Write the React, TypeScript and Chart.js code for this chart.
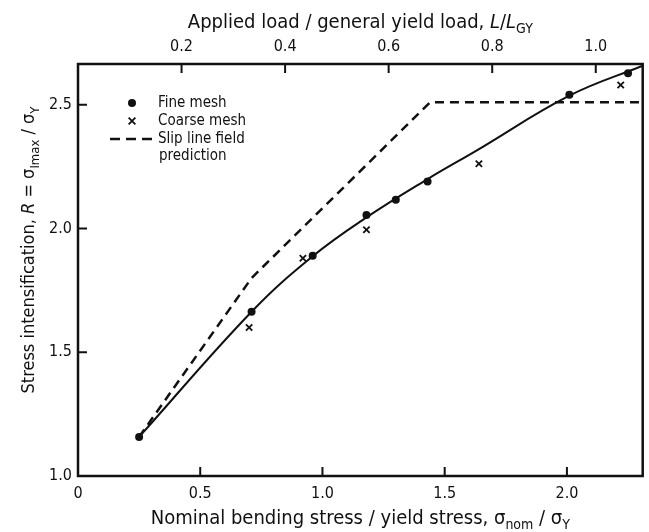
import React, { useEffect, useRef } from "react";
import { Chart, registerables } from "chart.js";

Chart.register(...registerables);

// ---- axis ranges ----
const xMin = 0;
const xMax = 2.31;
const yMin = 1.0;
const yMax = 2.665;
// 1.0 of applied load / general yield load corresponds to this nominal stress ratio
const stressPerLoad = 2.118;

// ---- tick labels ----
const bottomTickValues = [0, 0.5, 1.0, 1.5, 2.0];
const bottomTickLabels = ["0", "0.5", "1.0", "1.5", "2.0"];
const topTickValues = [0.2, 0.4, 0.6, 0.8, 1.0];
const topTickLabels = ["0.2", "0.4", "0.6", "0.8", "1.0"];
const leftTickValues = [1.0, 1.5, 2.0, 2.5];
const leftTickLabels = ["1.0", "1.5", "2.0", "2.5"];

// ---- series ----
const fineX = [0.25, 0.71, 0.96, 1.18, 1.3, 1.43, 2.01, 2.25];
const fineY = [1.158, 1.664, 1.89, 2.055, 2.116, 2.19, 2.541, 2.628];
const coarseX = [0.7, 0.92, 1.18, 1.64, 2.22];
const coarseY = [1.6, 1.88, 1.995, 2.262, 2.58];
const curveX = [0.25, 0.71, 0.96, 1.18, 1.43, 1.63, 2.01, 2.31];
const curveY = [1.158, 1.664, 1.888, 2.045, 2.2, 2.315, 2.537, 2.658];
const slipX = [0.25, 0.71, 1.44, 2.31];
const slipY = [1.158, 1.8, 2.51, 2.51];

const legendLabels = ["Fine mesh", "Coarse mesh", "Slip line field\nprediction"];

const FONT = '"DejaVu Sans Condensed", "DejaVu Sans", sans-serif';
const INK = "#111";

type Seg = { t: string; sub?: boolean; it?: boolean };

const topTitle: Seg[] = [
  { t: "Applied load / general yield load, " },
  { t: "L", it: true },
  { t: "/" },
  { t: "L", it: true },
  { t: "GY", sub: true },
];
const bottomTitle: Seg[] = [
  { t: "Nominal bending stress / yield stress, σ" },
  { t: "nom", sub: true },
  { t: " / σ" },
  { t: "Y", sub: true },
];
const leftTitle: Seg[] = [
  { t: "Stress intensification, " },
  { t: "R", it: true },
  { t: " = σ" },
  { t: "Imax", sub: true },
  { t: " / σ" },
  { t: "Y", sub: true },
];

function fontFor(s: Seg, size: number) {
  const sz = s.sub ? Math.round(size * 0.72) : size;
  return `${s.it ? "italic " : ""}${sz}px ${FONT}`;
}

function drawRich(
  ctx: CanvasRenderingContext2D,
  segs: Seg[],
  x: number,
  y: number,
  size: number,
  subDrop: number
) {
  let total = 0;
  for (const s of segs) {
    ctx.font = fontFor(s, size);
    total += ctx.measureText(s.t).width;
  }
  let cx = x - total / 2;
  ctx.textAlign = "left";
  ctx.textBaseline = "alphabetic";
  for (const s of segs) {
    ctx.font = fontFor(s, size);
    ctx.fillText(s.t, cx, s.sub ? y + subDrop : y);
    cx += ctx.measureText(s.t).width;
  }
}

const decorPlugin = {
  id: "decor",
  afterDraw(chart: any) {
    const ctx: CanvasRenderingContext2D = chart.ctx;
    const a = chart.chartArea;
    const sx = chart.scales.x;
    const sx2 = chart.scales.x2;
    const sy = chart.scales.y;
    ctx.save();
    ctx.strokeStyle = INK;
    ctx.fillStyle = INK;
    // frame
    ctx.lineWidth = 2.5;
    ctx.strokeRect(a.left, a.top, a.right - a.left, a.bottom - a.top);
    // inward ticks
    ctx.lineWidth = 2;
    const tl = 9;
    ctx.beginPath();
    for (const v of bottomTickValues) {
      const px = sx.getPixelForValue(v);
      ctx.moveTo(px, a.bottom);
      ctx.lineTo(px, a.bottom - tl);
    }
    for (const v of topTickValues) {
      const px = sx2.getPixelForValue(v);
      ctx.moveTo(px, a.top);
      ctx.lineTo(px, a.top + tl);
    }
    for (const v of leftTickValues) {
      const py = sy.getPixelForValue(v);
      ctx.moveTo(a.left, py);
      ctx.lineTo(a.left + tl, py);
    }
    ctx.stroke();

    // axis titles
    const cxMid = (a.left + a.right) / 2;
    drawRich(ctx, topTitle, cxMid, 28, 20, 5);
    drawRich(ctx, bottomTitle, cxMid, 524, 20, 5);
    ctx.save();
    ctx.translate(34, 250);
    ctx.rotate(-Math.PI / 2);
    drawRich(ctx, leftTitle, 0, 0, 18, 5);
    ctx.restore();

    // legend
    const fine = chart.data.datasets[2];
    const coarse = chart.data.datasets[3];
    const slip = chart.data.datasets[1];
    const lx = a.left + 54;
    const tx = a.left + 80;
    const rowY = [a.top + 39, a.top + 57, a.top + 75];
    ctx.font = `15px ${FONT}`;
    ctx.textAlign = "left";
    ctx.textBaseline = "middle";
    // fine mesh dot
    ctx.beginPath();
    ctx.arc(lx, rowY[0], fine.pointRadius, 0, Math.PI * 2);
    ctx.fillStyle = fine.backgroundColor;
    ctx.fill();
    // coarse mesh cross
    const r = coarse.pointRadius * 0.75;
    ctx.lineWidth = coarse.borderWidth;
    ctx.strokeStyle = coarse.borderColor;
    ctx.beginPath();
    ctx.moveTo(lx - r, rowY[1] - r);
    ctx.lineTo(lx + r, rowY[1] + r);
    ctx.moveTo(lx + r, rowY[1] - r);
    ctx.lineTo(lx - r, rowY[1] + r);
    ctx.stroke();
    // slip line dashes
    ctx.lineWidth = slip.borderWidth;
    ctx.strokeStyle = slip.borderColor;
    ctx.setLineDash([10, 6]);
    ctx.beginPath();
    ctx.moveTo(a.left + 32, rowY[2]);
    ctx.lineTo(a.left + 78, rowY[2]);
    ctx.stroke();
    ctx.setLineDash([]);
    ctx.fillStyle = INK;
    ctx.fillText(legendLabels[0], tx, rowY[0]);
    ctx.fillText(legendLabels[1], tx, rowY[1]);
    const parts = legendLabels[2].split("\n");
    ctx.fillText(parts[0], tx, rowY[2]);
    ctx.fillText(parts[1], tx + 1, rowY[2] + 17);
    ctx.restore();
  },
};

function toPts(xs: number[], ys: number[]) {
  return xs.map((x, i) => ({ x, y: ys[i] }));
}

function labelFor(values: number[], labels: string[]) {
  return (v: any) => {
    const i = values.findIndex((t) => Math.abs(t - Number(v)) < 1e-6);
    return i >= 0 ? labels[i] : "";
  };
}

export default function App() {
  const ref = useRef<HTMLCanvasElement | null>(null);
  useEffect(() => {
    if (!ref.current) return;
    const tickFont = { family: FONT, size: 16 };
    const chart = new Chart(ref.current, {
      type: "scatter",
      data: {
        datasets: [
          {
            label: "curve",
            data: toPts(curveX, curveY),
            showLine: true,
            borderColor: INK,
            borderWidth: 2,
            pointRadius: 0,
            tension: 0.4,
            xAxisID: "x",
            yAxisID: "y",
          },
          {
            label: "Slip line field prediction",
            data: toPts(slipX, slipY),
            showLine: true,
            borderColor: INK,
            borderWidth: 2.5,
            borderDash: [9, 6],
            pointRadius: 0,
            xAxisID: "x",
            yAxisID: "y",
          },
          {
            label: "Fine mesh",
            data: toPts(fineX, fineY),
            pointStyle: "circle",
            pointRadius: 4,
            backgroundColor: INK,
            borderColor: INK,
            borderWidth: 0,
            xAxisID: "x",
            yAxisID: "y",
          },
          {
            label: "Coarse mesh",
            data: toPts(coarseX, coarseY),
            pointStyle: "crossRot",
            pointRadius: 4.5,
            backgroundColor: INK,
            borderColor: INK,
            borderWidth: 1.8,
            xAxisID: "x",
            yAxisID: "y",
          },
        ],
      },
      options: {
        animation: false,
        responsive: false,
        layout: { padding: { left: 0, right: 3, top: 0, bottom: 0 } },
        plugins: { legend: { display: false }, tooltip: { enabled: false } },
        scales: {
          x: {
            type: "linear",
            position: "bottom",
            min: xMin,
            max: xMax,
            grid: { display: false, drawTicks: false },
            border: { display: false },
            afterBuildTicks: (s: any) => {
              s.ticks = bottomTickValues.map((v) => ({ value: v }));
            },
            afterFit: (s: any) => {
              s.height = 56;
            },
            ticks: {
              font: tickFont,
              color: INK,
              padding: 8,
              maxRotation: 0,
              callback: labelFor(bottomTickValues, bottomTickLabels),
            },
          },
          x2: {
            type: "linear",
            position: "top",
            min: 0,
            max: xMax / stressPerLoad,
            grid: { display: false, drawTicks: false },
            border: { display: false },
            afterBuildTicks: (s: any) => {
              s.ticks = topTickValues.map((v) => ({ value: v }));
            },
            afterFit: (s: any) => {
              s.height = 64;
            },
            ticks: {
              font: tickFont,
              color: INK,
              padding: 8,
              maxRotation: 0,
              callback: labelFor(topTickValues, topTickLabels),
            },
          },
          y: {
            type: "linear",
            position: "left",
            min: yMin,
            max: yMax,
            grid: { display: false, drawTicks: false },
            border: { display: false },
            afterBuildTicks: (s: any) => {
              s.ticks = leftTickValues.map((v) => ({ value: v }));
            },
            afterFit: (s: any) => {
              s.width = 78;
            },
            ticks: {
              font: tickFont,
              color: INK,
              padding: 6,
              callback: labelFor(leftTickValues, leftTickLabels),
            },
          },
        },
      } as any,
      plugins: [decorPlugin],
    });
    return () => chart.destroy();
  }, []);
  return (
    <div style={{ position: "absolute", left: 0, top: 0, width: 649, height: 532, background: "#fff" }}>
      <canvas ref={ref} width={649} height={532} />
    </div>
  );
}
